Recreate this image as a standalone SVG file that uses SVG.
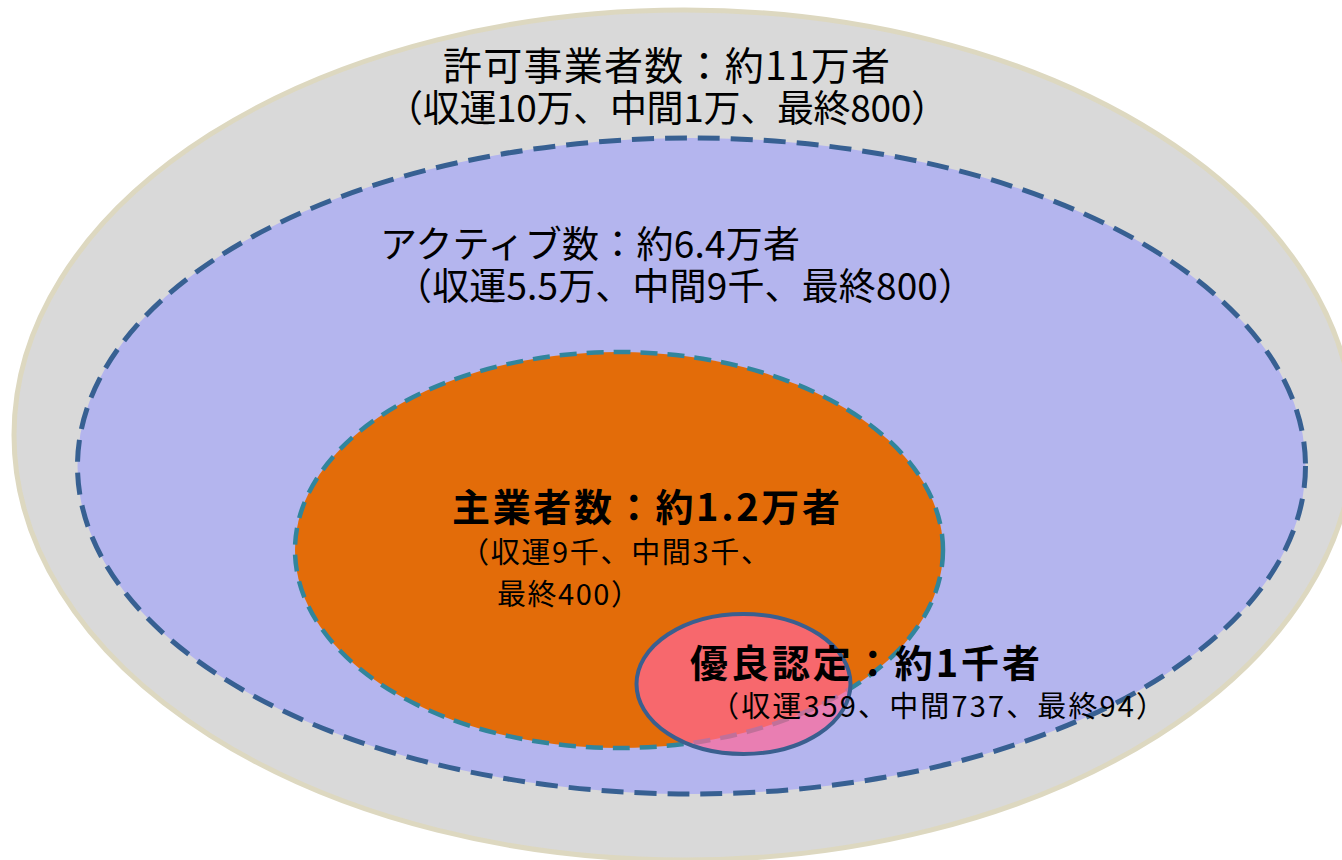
<svg xmlns="http://www.w3.org/2000/svg" width="1342" height="860" viewBox="0 0 1342 860">
<style>
text{font-family:"Noto Sans CJK JP","Noto Sans",sans-serif;fill:#000;}
.l{font-size:37px;}
.m{font-size:29px;}
.b{font-weight:bold;font-size:38px;}
</style>
<rect width="1342" height="860" fill="#fff"/>
<g id="licensed">
<ellipse cx="684" cy="435" rx="670" ry="425" fill="#d9d9d9" stroke="#ddd8c0" stroke-width="5"/>
<text class="l" x="443" y="80" textLength="447" style="font-size:39px">許可事業者数：約11万者</text>
<text class="l" x="386" y="122" textLength="562">（収運10万、中間1万、最終800）</text>
</g>
<g id="active">
<ellipse cx="691.5" cy="466" rx="614" ry="328" fill="#b4b5ee" stroke="#376092" stroke-width="5" stroke-dasharray="22 11"/>
<text class="l" x="380" y="258" textLength="420">アクティブ数：約6.4万者</text>
<text class="l" x="395" y="300" textLength="580">（収運5.5万、中間9千、最終800）</text>
</g>
<g id="main">
<ellipse cx="619" cy="550" rx="324" ry="198" fill="#e36c09" stroke="#31859c" stroke-width="4.5" stroke-dasharray="17 10"/>
</g>
<g id="excellent">
<ellipse cx="743.5" cy="684" rx="107" ry="70" fill="#ff6699" fill-opacity="0.7" stroke="#3a5f8f" stroke-width="4"/>
</g>
<g id="labels">
<text class="b" x="452" y="521" textLength="388">主業者数：約1.2万者</text>
<text class="m" x="460" y="563" textLength="310">（収運9千、中間3千、</text>
<text class="m" x="497" y="605" textLength="143">最終400）</text>
<text class="b" x="690" y="677" textLength="350">優良認定：約1千者</text>
<text class="m" x="710" y="717" textLength="455">（収運359、中間737、最終94）</text>
</g>
<g id="connectors"/>
</svg>
